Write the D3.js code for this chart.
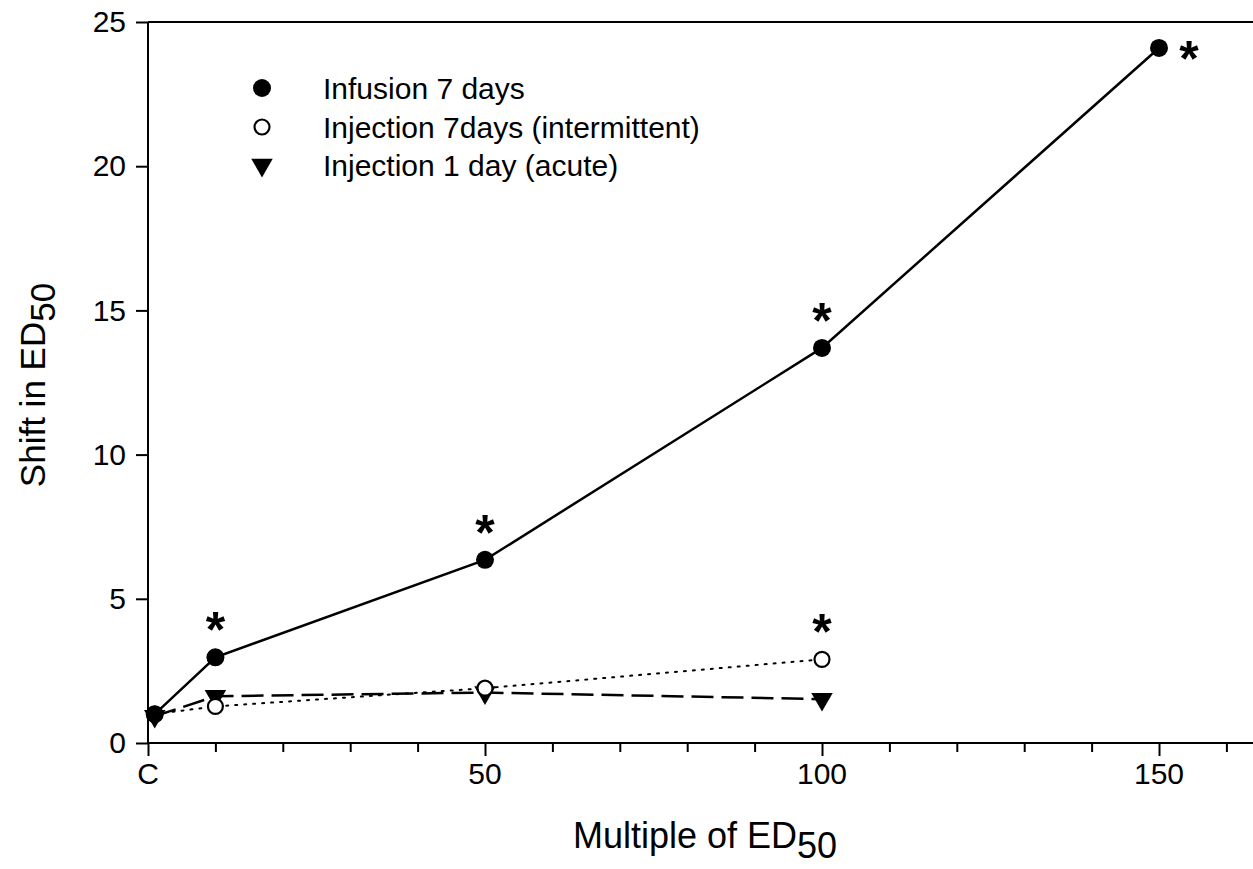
<!DOCTYPE html>
<html>
<head>
<meta charset="utf-8">
<script src="https://cdn.jsdelivr.net/npm/d3@7"></script>
<style>
	body { margin: 0; background: #fff; }
	svg { display: block; font-family: "Liberation Sans", Arial, sans-serif; }
</style>
</head>
<body>
<div id="chart"></div>
<script>
// x = multiple of ED50 (the "C" control group sits at 1)
let infusionX = [1, 10, 50, 100, 150];
let infusionY = [1.0, 2.97, 6.35, 13.7, 24.1];

let intermittentX = [1, 10, 50, 100];
let intermittentY = [1.0, 1.27, 1.9, 2.9];

let acuteX = [1, 10, 50, 100];
let acuteY = [0.93, 1.62, 1.75, 1.52];

let seriesNames = ["Infusion 7 days", "Injection 7days (intermittent)", "Injection 1 day (acute)"];

// significance marks: [series index, x value]
let starMarks = [[0, 10], [0, 50], [0, 100], [0, 150], [1, 100]];

let xTicks = [0, 50, 100, 150];
let xTickLabels = ["C", "50", "100", "150"];
let yTicks = [0, 5, 10, 15, 20, 25];

const width = 1253, height = 869;
const x = d3.scaleLinear().domain([0, 163.5]).range([148, 1250]);
const y = d3.scaleLinear().domain([0, 25]).range([743, 22]);

let svg = d3.select("#chart").append("svg")
	.attr("width", width)
	.attr("height", height);

// axes
let xAxis = svg.append("g")
	.attr("transform", `translate(0,${y(0)})`)
	.call(d3.axisBottom(x).tickValues(d3.range(0, 170, 10)).tickSize(9).tickFormat(""));
xAxis.selectAll(".tick line")
	.attr("y2", d => xTicks.includes(d) ? 13 : 9);
xAxis.select(".domain").attr("d", `M${x(0)},0H${width}`);

let xLabels = svg.append("g");
xLabels.selectAll("text")
	.data(xTicks)
	.join("text")
	.attr("x", d => x(d))
	.attr("y", y(0) + 41)
	.attr("text-anchor", "middle")
	.attr("font-size", 30)
	.text((d, i) => xTickLabels[i]);

let yAxis = svg.append("g")
	.attr("transform", `translate(${x(0)},0)`)
	.call(d3.axisLeft(y).tickValues(yTicks).tickSize(12).tickPadding(10));
yAxis.select(".domain").attr("d", `M0,${y(25)}V${y(0)}`);
yAxis.selectAll("text").attr("font-size", 30).attr("font-family", "Liberation Sans, Arial, sans-serif");

// top frame line
svg.append("line")
	.attr("x1", x(0)).attr("x2", width)
	.attr("y1", y(25)).attr("y2", y(25))
	.attr("stroke", "#000").attr("stroke-width", 2);

svg.selectAll(".domain, .tick line").attr("stroke", "#000").attr("stroke-width", 2);

// axis titles
let xTitle = svg.append("text")
	.attr("x", 705).attr("y", 848)
	.attr("text-anchor", "middle")
	.attr("font-size", 36);
xTitle.append("tspan").text("Multiple of ED");
xTitle.append("tspan").attr("dy", 10).text("50");

let yTitle = svg.append("text")
	.attr("transform", "translate(45,385) rotate(-90)")
	.attr("text-anchor", "middle")
	.attr("font-size", 35);
yTitle.append("tspan").text("Shift in ED");
yTitle.append("tspan").attr("dy", 10).text("50");

// lines
let line = d3.line().x(d => x(d[0])).y(d => y(d[1]));

svg.append("path")
	.datum(d3.zip(intermittentX, intermittentY))
	.attr("d", line).attr("fill", "none")
	.attr("stroke", "#000").attr("stroke-width", 2)
	.attr("stroke-dasharray", "2,7").attr("stroke-linecap", "round");

svg.append("path")
	.datum(d3.zip(acuteX, acuteY))
	.attr("d", line).attr("fill", "none")
	.attr("stroke", "#000").attr("stroke-width", 2.5)
	.attr("stroke-dasharray", "22,8");

svg.append("path")
	.datum(d3.zip(infusionX, infusionY))
	.attr("d", line).attr("fill", "none")
	.attr("stroke", "#000").attr("stroke-width", 2.5);

// markers
const triangle = d3.symbol().type(d3.symbolTriangle).size(200);

function drawMarker(g, kind) {
	if (kind === 0) {
		g.append("circle").attr("r", 9).attr("fill", "#000");
	} else if (kind === 1) {
		g.append("circle").attr("r", 7.5).attr("fill", "#fff").attr("stroke", "#000").attr("stroke-width", 2.2);
	} else {
		g.append("path").attr("d", triangle).attr("transform", "rotate(180)").attr("fill", "#000");
	}
}

let allSeries = [d3.zip(infusionX, infusionY), d3.zip(intermittentX, intermittentY), d3.zip(acuteX, acuteY)];
[2, 1, 0].forEach(k => {
	svg.append("g").selectAll("g")
		.data(allSeries[k])
		.join("g")
		.attr("transform", d => `translate(${x(d[0])},${y(d[1])})`)
		.each(function () { drawMarker(d3.select(this), k); });
});

// asterisks
svg.append("g").selectAll("text")
	.data(starMarks)
	.join("text")
	.attr("x", d => {
		let px = x(d[1]);
		return d[1] === 150 ? px + 30 : px;
	})
	.attr("y", d => {
		let s = allSeries[d[0]];
		let py = y(s.find(p => p[0] === d[1])[1]);
		return d[1] === 150 ? py + 28 : py - 10;
	})
	.attr("text-anchor", "middle")
	.attr("font-size", 50)
	.attr("font-weight", "bold")
	.text("*");

// legend
let legend = svg.append("g");
let legendY = [88, 127, 165];
seriesNames.forEach((name, i) => {
	let row = legend.append("g").attr("transform", `translate(262,${legendY[i]})`);
	drawMarker(row, i);
	row.append("text")
		.attr("x", 61).attr("dy", "0.35em")
		.attr("font-size", 30)
		.text(name);
});
</script>
</body>
</html>
